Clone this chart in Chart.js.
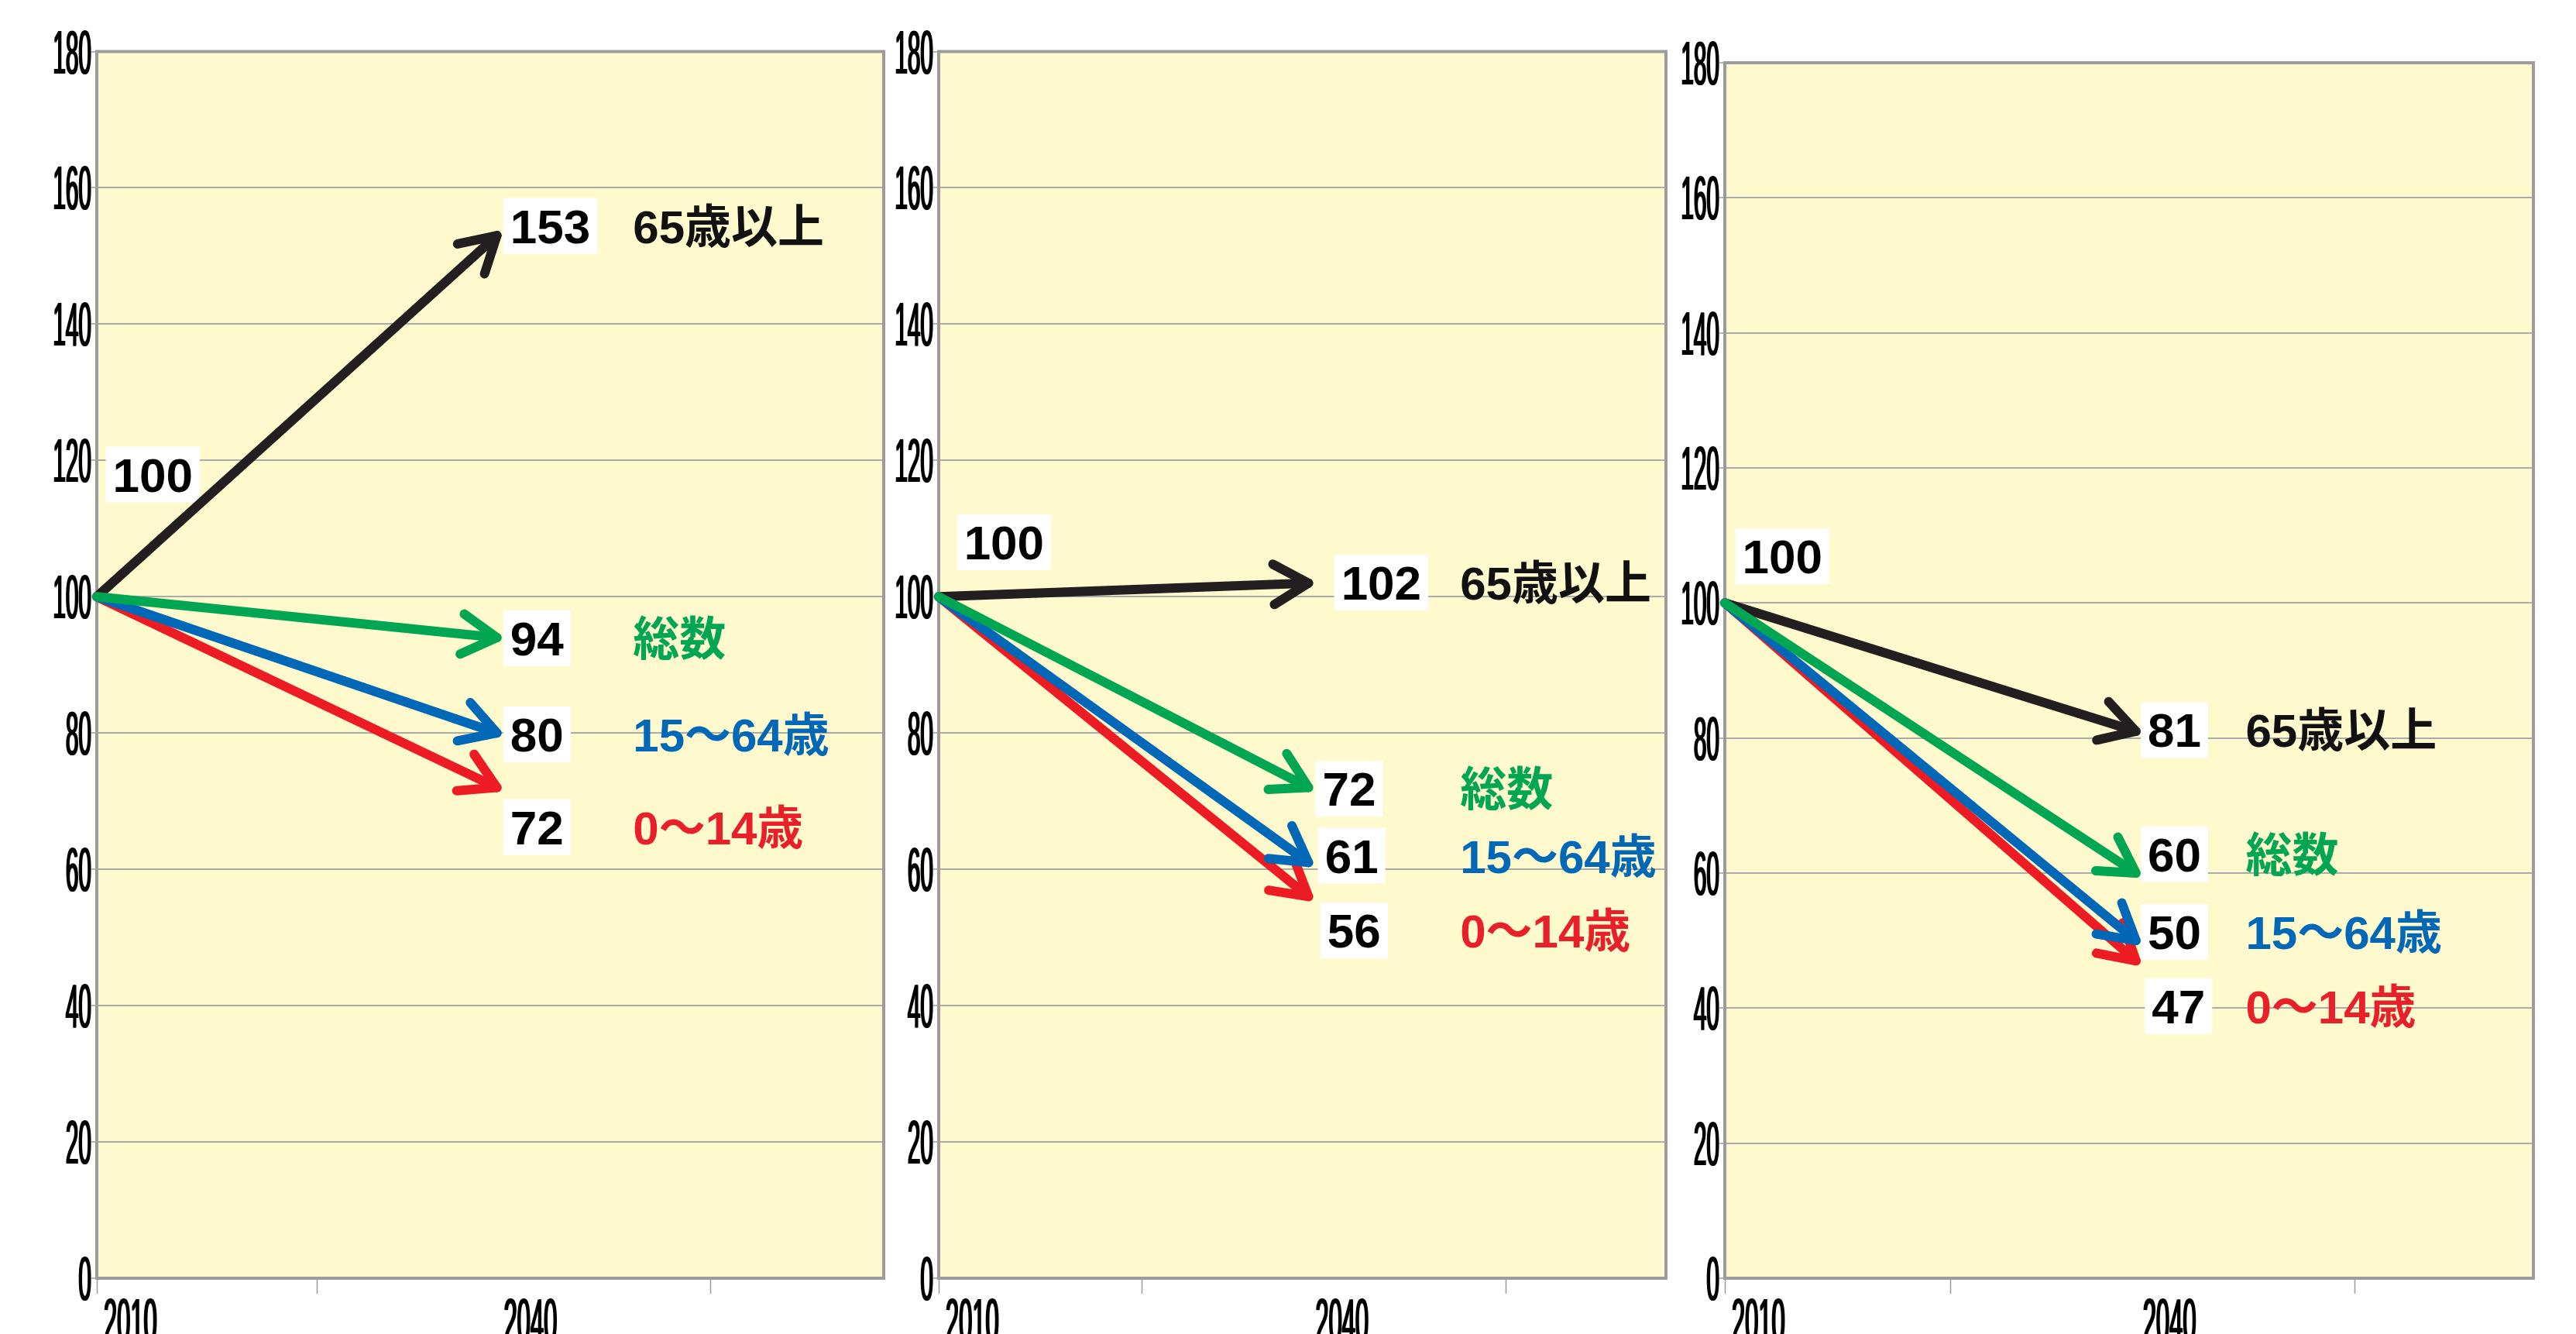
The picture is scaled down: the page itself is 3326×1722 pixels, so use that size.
<!DOCTYPE html>
<html lang="ja">
<head>
<meta charset="utf-8">
<title>年齢3区分別人口の指数</title>
<script src="https://cdn.jsdelivr.net/npm/chart.js@4.4.1/dist/chart.umd.min.js"></script>
<style>
  html, body { margin: 0; padding: 0; background: #ffffff; width: 3326px; height: 1722px; overflow: hidden; }
  canvas { position: absolute; top: 0; }
</style>
</head>
<body>
<canvas id="panel1"></canvas>
<canvas id="panel2"></canvas>
<canvas id="panel3"></canvas>
<script>
// ---- data ----
const years = [2010, 2040];                 // start and end of each arrow
const baseIndex = 100;                      // 2010 = 100
const groupNames = ['総数', '15〜64歳', '0〜14歳', '65歳以上'];
const panel1Values = [94, 80, 72, 153];
const panel2Values = [72, 61, 56, 102];
const panel3Values = [60, 50, 47, 81];
const xTickLabels = ['2010', '2040'];

// ---- styling ----
const seriesColors = ['#00a651', '#0068b7', '#ed1c24', '#231f20'];
const nameColors   = ['#00a651', '#0068b7', '#e8202a', '#111111'];
const plotFill = '#fffacd';
const frameColor = '#9c9c9e';
const CANVAS_H = 1722;
const AREA_BOTTOM = 1650;
const X_MAX = 2069;
const xTickMarks = [2010, 2026.5, 2040, 2056];

// label placement per panel (data units)
const panelLayouts = [
  { id: 'panel1', values: panel1Values, left: 0, width: 1180, areaLeft: 125, padRight: 39, top: 66.5,
    numX: [2043.0, 2043.0, 2043.0, 2044.0], numY: [93.9, 79.8, 66.2, 154.4], nameX: 2050.2, baseAt: [2014.2, 117.9] },
  { id: 'panel2', values: panel2Values, left: 1145, width: 1045, areaLeft: 67, padRight: 39, top: 66.5,
    numX: [2043.3, 2043.5, 2043.7, 2045.9], numY: [71.8, 62.0, 51.0, 102.1], nameX: 2052.3, baseAt: [2015.3, 108.0] },
  { id: 'panel3', values: panel3Values, left: 2160, width: 1166, areaLeft: 67, padRight: 55, top: 81,
    numX: [2042.8, 2042.8, 2043.1, 2042.8], numY: [62.8, 51.3, 40.3, 81.2], nameX: 2048.0, baseAt: [2014.2, 106.9] }
];

// tall, narrow axis numerals
function drawNarrow(ctx, text, x, y, align, charW) {
  ctx.save();
  ctx.font = '80px "Liberation Sans", Arial, sans-serif';
  const w = ctx.measureText(text).width;
  const sx = (charW * text.length) / w;
  ctx.fillStyle = '#000';
  ctx.textAlign = align;
  ctx.textBaseline = 'alphabetic';
  ctx.translate(x, y);
  ctx.scale(sx, 1);
  ctx.fillText(text, 0, 0);
  ctx.fillText(text, 1 / sx, 0);
  ctx.fillText(text, 1.8 / sx, 0);
  ctx.restore();
}

// boxed value label
function drawBoxedNumber(ctx, text, cx, cy) {
  ctx.save();
  ctx.font = 'bold 62px "Liberation Sans", Arial, sans-serif';
  const w = ctx.measureText(text).width;
  ctx.fillStyle = '#ffffff';
  ctx.fillRect(cx - w / 2 - 9, cy - 36, w + 18, 72);
  ctx.fillStyle = '#000000';
  ctx.textAlign = 'center';
  ctx.textBaseline = 'alphabetic';
  ctx.fillText(text, cx, cy + 22);
  ctx.restore();
}

const panelPlugin = {
  id: 'panelDecor',
  beforeDraw(chart) {
    const a = chart.chartArea, ctx = chart.ctx;
    ctx.save();
    ctx.fillStyle = plotFill;
    ctx.fillRect(a.left, a.top, a.right - a.left, a.bottom - a.top);
    ctx.restore();
  },
  beforeDatasetsDraw(chart) {
    const a = chart.chartArea, ctx = chart.ctx;
    ctx.save();
    ctx.strokeStyle = frameColor;
    ctx.lineWidth = 4;
    ctx.strokeRect(a.left, a.top, a.right - a.left, a.bottom - a.top);
    ctx.restore();
    // starting value label sits under the arrows
    const L = chart.options.plugins.panelDecor.layout;
    drawBoxedNumber(ctx, String(baseIndex),
      chart.scales.x.getPixelForValue(L.baseAt[0]), chart.scales.y.getPixelForValue(L.baseAt[1]));
  },
  afterDatasetDraw(chart, args) {
    // open arrowhead at the 2040 end of each line
    const pts = args.meta.data;
    if (pts.length < 2) return;
    const p0 = pts[0], p1 = pts[pts.length - 1];
    const ang = Math.atan2(p1.y - p0.y, p1.x - p0.x);
    const len = 52, spread = Math.PI / 6;
    const ctx = chart.ctx;
    ctx.save();
    ctx.strokeStyle = chart.data.datasets[args.index].borderColor;
    ctx.lineWidth = 12;
    ctx.lineCap = 'round';
    ctx.lineJoin = 'round';
    ctx.beginPath();
    ctx.moveTo(p1.x - len * Math.cos(ang - spread), p1.y - len * Math.sin(ang - spread));
    ctx.lineTo(p1.x, p1.y);
    ctx.lineTo(p1.x - len * Math.cos(ang + spread), p1.y - len * Math.sin(ang + spread));
    ctx.stroke();
    ctx.restore();
  },
  afterDatasetsDraw(chart) {
    const L = chart.options.plugins.panelDecor.layout;
    const xs = chart.scales.x, ys = chart.scales.y, ctx = chart.ctx;
    L.values.forEach((v, i) => {
      const cy = ys.getPixelForValue(L.numY[i]);
      drawBoxedNumber(ctx, String(v), xs.getPixelForValue(L.numX[i]), cy);
      ctx.save();
      ctx.font = 'bold 60px "Liberation Sans", "Noto Sans CJK JP", sans-serif';
      ctx.fillStyle = nameColors[i];
      ctx.textAlign = 'left';
      ctx.textBaseline = 'alphabetic';
      ctx.fillText(groupNames[i], xs.getPixelForValue(L.nameX), cy + 22);
      ctx.restore();
    });
  },
  afterDraw(chart) {
    const xs = chart.scales.x, ys = chart.scales.y, ctx = chart.ctx, a = chart.chartArea;
    ys.ticks.forEach(t => {
      drawNarrow(ctx, String(t.value), a.left - 8, ys.getPixelForValue(t.value) + 28, 'right', 16.5);
    });
    years.forEach((yr, i) => {
      drawNarrow(ctx, xTickLabels[i], xs.getPixelForValue(yr) + 8, a.bottom + 82, 'left', 17.2);
    });
  }
};

panelLayouts.forEach(L => {
  const cv = document.getElementById(L.id);
  cv.width = L.width;
  cv.height = CANVAS_H;
  cv.style.left = L.left + 'px';
  cv.style.width = L.width + 'px';
  cv.style.height = CANVAS_H + 'px';

  const datasets = L.values.map((v, i) => ({
    label: groupNames[i],
    data: [{ x: years[0], y: baseIndex }, { x: years[1], y: v }],
    borderColor: seriesColors[i],
    borderWidth: 12,
    borderCapStyle: 'round',
    borderJoinStyle: 'round',
    pointRadius: 0,
    tension: 0,
    fill: false,
    clip: false
  }));

  new Chart(cv, {
    type: 'line',
    data: { datasets },
    options: {
      responsive: false,
      animation: false,
      events: [],
      layout: { padding: { left: L.areaLeft - 7, right: L.padRight, top: L.top, bottom: CANVAS_H - AREA_BOTTOM - 20 } },
      plugins: {
        legend: { display: false },
        tooltip: { enabled: false },
        panelDecor: { layout: L }
      },
      scales: {
        x: {
          type: 'linear', min: years[0], max: X_MAX,
          afterBuildTicks: s => { s.ticks = xTickMarks.map(v => ({ value: v })); },
          afterFit: s => { s.height = 20; },
          ticks: { display: false },
          border: { display: false },
          grid: {
            drawOnChartArea: false, drawTicks: true, tickLength: 20, tickWidth: 1.5,
            tickColor: c => (c.tick && c.tick.value === years[1]) ? 'rgba(0,0,0,0)' : '#9a9a9a'
          }
        },
        y: {
          min: 0, max: 180,
          ticks: { display: false, stepSize: 20 },
          afterFit: s => { s.width = 7; },
          border: { display: false },
          grid: { color: '#ababab', lineWidth: 2, drawTicks: true, tickLength: 7, tickColor: '#9a9a9a', tickWidth: 1.5 }
        }
      }
    },
    plugins: [panelPlugin]
  });
});
</script>
</body>
</html>
